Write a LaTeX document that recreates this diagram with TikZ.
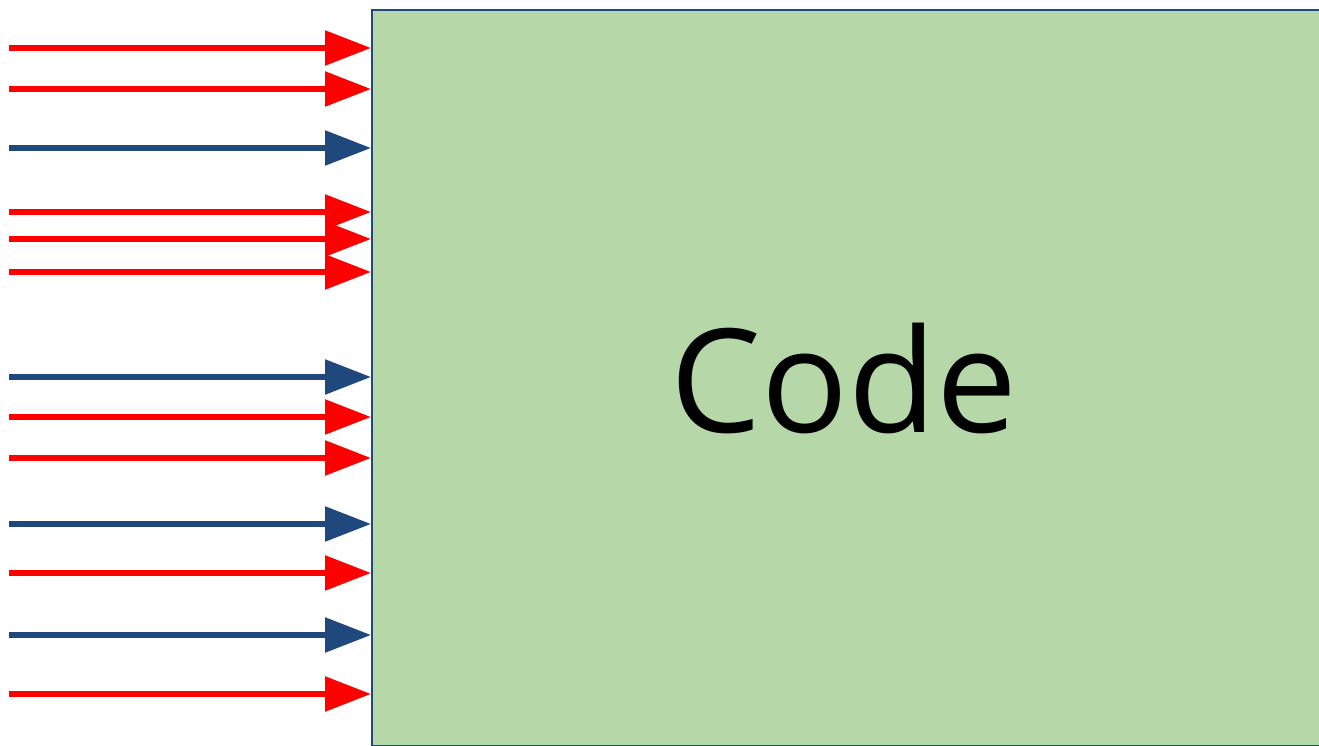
\documentclass[tikz,border=0pt]{standalone}
\usepackage{fontspec}
\setmainfont{Open Sans}
\usetikzlibrary{arrows.meta}
\usetikzlibrary{positioning}
\definecolor{inred}{RGB}{255,0,0}
\definecolor{inblue}{RGB}{31,73,125}
\definecolor{codegreen}{RGB}{182,215,168}
\tikzset{
    x=0.02cm, y=-0.02cm, % one unit is one pixel of the original
    codebox/.style={ % The big block on the right, cut off by the page
        draw=inblue,
        line width=1.2pt,
        fill=codegreen,
        anchor=north west,
        inner sep=0pt,
        minimum width=19.3cm,
        minimum height=14.72cm
    },
    codetext/.style={
        font=\fontsize{82}{96}\selectfont
    },
    input/.style={ % Sets the properties for each input line
        line width=3.2pt,
        -{Triangle[length=0.92cm,width=0.68cm]}
    }
}
\begin{document}
\begin{tikzpicture}
    \useasboundingbox (0,0) rectangle (1319,746);
    \node[codebox] (code) at (371,9) {};
    \node[codetext] (title) at ([xshift=-0.21cm]code.center) {Code};

    % red and blue inputs, top to bottom
    \foreach \y/\c [count=\i] in {48/inred, 89/inred, 148/inblue, 212/inred,
                                  239/inred, 272/inred, 377/inblue, 417/inred,
                                  458/inred, 524/inblue, 573/inred, 635/inblue,
                                  694/inred}{
        \coordinate (in\i) at (9,\y);
        \draw[input, \c] (in\i) -- (in\i -| code.west);
    }
\end{tikzpicture}
\end{document}
